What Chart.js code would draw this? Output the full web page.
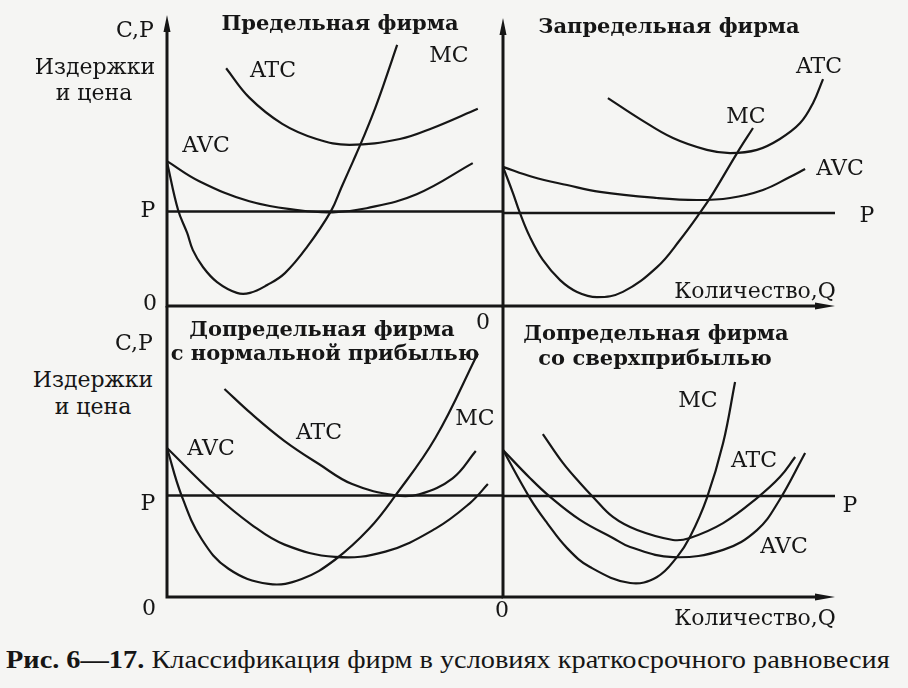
<!DOCTYPE html>
<html>
<head>
<meta charset="utf-8">
<script src="https://cdn.jsdelivr.net/npm/chart.js@4.4.0/dist/chart.umd.min.js"></script>
<style>
  body { margin: 0; background: #f5f5f3; }
  #fig { position: relative; width: 908px; height: 688px; overflow: hidden; }
  #fig canvas { position: absolute; }
  .t { position: absolute; font-family: "DejaVu Serif", serif; font-size: 22px; color: #161616;
       transform: translate(-50%, -50%); white-space: nowrap; line-height: 1; }
  .b { font-weight: bold; font-size: 21px; }
  #caption { position: absolute; left: 6px; top: 647px; font-family: "Liberation Serif", serif;
             font-size: 25px; color: #161616; white-space: nowrap; line-height: 1; transform-origin: 0 0; }
</style>
</head>
<body>
<div id="fig"></div>
<script>
// values: [quantity, cost] with both axes 0..100
const tlMC  = [[0,49.5],[3.3,33.0],[6.0,25.1],[7.7,19.2],[10.7,13.4],[14.9,8.2],[20.8,4.5],[24.7,4.5],[29.8,7.2],[35.1,11.3],[41.7,20.3],[48.8,32.6],[52.0,41.0],[55.4,49.8],[58.3,57.5],[61.3,66.0],[64.3,75.5],[68.5,89.7]]
const tlATC = [[17.6,81.7],[24.5,71.6],[34.3,62.6],[44.5,57.4],[54.3,55.4],[69.3,57.4],[79.1,61.2],[92.5,67.8]]
const tlAVC = [[0,49.8],[9.6,42.9],[24.5,36.0],[39.4,32.9],[49.3,32.2],[59.4,33.6],[74.3,38.4],[91.0,49.1]]

const trMC  = [[0,48.3],[3.0,39.2],[5.1,32.3],[8.1,24.0],[12.0,16.0],[17.2,9.0],[22.3,4.9],[28.3,3.1],[36.1,4.9],[46.4,13.5],[53.3,22.9],[59.3,32.3],[63.3,39.2],[70.5,53.1],[75.3,61.8]]
const trATC = [[31.6,72.2],[41.3,64.9],[51.2,58.3],[61.4,54.2],[68.4,53.1],[76.5,54.2],[83.4,58.0],[89.5,63.5],[93.4,70.5],[96.4,78.8]]
const trAVC = [[0,48.3],[9.0,44.8],[19.3,42.0],[29.2,39.6],[46.4,37.5],[58.4,36.8],[68.4,37.5],[78.3,40.3],[86.4,44.8],[91.0,47.6]]

const blMC  = [[0,51.2],[4.2,35.3],[10.2,20.1],[18.3,9.7],[30.2,4.5],[40.1,6.2],[50.0,12.8],[60.2,23.5],[68.0,34.9],[79.9,54.7],[92.5,83.7]]
const blATC = [[17.1,71.5],[25.1,63.0],[35.0,53.6],[45.2,45.7],[55.1,38.8],[68.0,34.9],[75.1,35.3],[85.0,40.8],[91.9,50.2]]
const blAVC = [[0,51.2],[14.1,35.3],[25.1,24.9],[35.0,18.0],[50.0,13.8],[65.0,15.6],[79.9,23.5],[90.1,32.2],[95.5,38.8]]

const brMC  = [[0,50.5],[8.1,34.0],[13.3,25.4],[19.3,16.8],[26.2,10.3],[38.3,4.8],[46.4,6.9],[52.4,13.7],[56.3,20.6],[61.4,34.0],[66.3,52.9],[69.9,73.9]]
const brATC = [[12.0,56.0],[18.1,46.0],[23.2,39.2],[27.1,34.4],[33.1,27.5],[40.4,23.0],[51.2,19.6],[56.3,20.3],[66.3,25.4],[76.5,34.0],[83.4,41.2],[88.0,48.1]]
const brAVC = [[0,50.5],[8.1,40.9],[14.2,34.4],[23.2,26.5],[33.1,20.3],[38.3,17.2],[51.2,13.7],[66.3,16.2],[76.5,23.0],[83.1,33.0],[91.0,49.5]]

const priceLevels = [32.5, 32.3, 34.9, 34.7]

const ink = '#161616'
const pad = 12

// box: origin x, origin y, width, height (pixels of the figure)
const panels = [
  { box: [167, 306, 336, 291], arrowUp: true,  arrowRight: false, curves: [tlMC, tlATC, tlAVC], price: priceLevels[0] },
  { box: [503, 306, 332, 288], arrowUp: true,  arrowRight: true,  curves: [trMC, trATC, trAVC], price: priceLevels[1] },
  { box: [167, 597, 336, 291], arrowUp: false, arrowRight: false, curves: [blMC, blATC, blAVC], price: priceLevels[2] },
  { box: [503, 597, 332, 291], arrowUp: false, arrowRight: true,  curves: [brMC, brATC, brAVC], price: priceLevels[3] },
]

const labels = [
  ['C,P', 135, 30], ['Издержки', 95, 67], ['и цена', 94, 93],
  ['Предельная фирма', 340, 22, 'b'],
  ['MC', 449, 55], ['ATC', 273, 70], ['AVC', 206, 145], ['P', 148, 210], ['0', 150, 303],
  ['Запредельная фирма', 669, 25, 'b'],
  ['ATC', 819, 66], ['MC', 746, 116], ['AVC', 840, 168], ['P', 867, 215], ['Количество,Q', 755, 291],
  ['0', 483, 322],
  ['C,P', 134, 343], ['Издержки', 93, 380], ['и цена', 93, 407],
  ['Допредельная фирма', 322, 328, 'b'], ['с нормальной прибылью', 325, 352, 'b'],
  ['ATC', 319, 432], ['AVC', 211, 448], ['MC', 475, 418], ['P', 148, 503], ['0', 149, 608],
  ['Допредельная фирма', 656, 332, 'b'], ['со сверхприбылью', 655, 357, 'b'],
  ['MC', 698, 400], ['ATC', 754, 460], ['AVC', 784, 546], ['P', 850, 505], ['0', 502, 610],
  ['Количество,Q', 755, 618],
]

function axesPlugin(p) {
  return {
    id: 'axes',
    beforeDatasetsDraw(chart) {
      const ctx = chart.ctx
      const x = chart.scales.x, y = chart.scales.y
      const x0 = x.getPixelForValue(0), y0 = y.getPixelForValue(0)
      const x1 = x.getPixelForValue(100), y1 = y.getPixelForValue(100)
      ctx.save()
      ctx.strokeStyle = ink
      ctx.fillStyle = ink
      ctx.lineWidth = 3
      ctx.beginPath()
      ctx.moveTo(x0, y0 + 1.5)
      ctx.lineTo(x0, p.arrowUp ? y1 + 10 : y1)
      ctx.moveTo(x0 - 1.5, y0)
      ctx.lineTo(p.arrowRight ? x1 - 12 : x1, y0)
      ctx.stroke()
      if (p.arrowUp) {
        ctx.beginPath()
        ctx.moveTo(x0, y1)
        ctx.lineTo(x0 - 3.5, y1 + 17)
        ctx.lineTo(x0 + 3.5, y1 + 17)
        ctx.closePath()
        ctx.fill()
      }
      if (p.arrowRight) {
        ctx.beginPath()
        ctx.moveTo(x1, y0)
        ctx.lineTo(x1 - 20, y0 - 3.5)
        ctx.lineTo(x1 - 20, y0 + 3.5)
        ctx.closePath()
        ctx.fill()
      }
      ctx.restore()
    }
  }
}

const fig = document.getElementById('fig')

panels.forEach((p) => {
  const [ox, oy, w, h] = p.box
  const canvas = document.createElement('canvas')
  canvas.width = w + 2 * pad
  canvas.height = h + 2 * pad
  canvas.style.left = (ox - pad) + 'px'
  canvas.style.top = (oy - h - pad) + 'px'
  fig.appendChild(canvas)

  const toPoints = (arr) => arr.map((d) => ({ x: d[0], y: d[1] }))
  const datasets = p.curves.map((c) => ({
    data: toPoints(c),
    borderColor: ink,
    borderWidth: 2.2,
    pointRadius: 0,
    tension: 0.4,
    fill: false,
    clip: pad,
  }))
  datasets.push({
    data: [{ x: 0, y: p.price }, { x: 100, y: p.price }],
    borderColor: ink,
    borderWidth: 2.4,
    pointRadius: 0,
    fill: false,
    clip: pad,
  })

  new Chart(canvas.getContext('2d'), {
    type: 'line',
    data: { datasets: datasets },
    options: {
      responsive: false,
      animation: false,
      layout: { padding: pad },
      plugins: { legend: { display: false }, tooltip: { enabled: false } },
      scales: {
        x: { type: 'linear', min: 0, max: 100, display: false },
        y: { type: 'linear', min: 0, max: 100, display: false },
      },
    },
    plugins: [axesPlugin(p)],
  })
})

labels.forEach((l) => {
  const d = document.createElement('div')
  d.className = 't' + (l[3] ? ' ' + l[3] : '')
  d.textContent = l[0]
  d.style.left = l[1] + 'px'
  d.style.top = l[2] + 'px'
  fig.appendChild(d)
})

const cap = document.createElement('div')
cap.id = 'caption'
cap.innerHTML = '<b>Рис. 6—17.</b> Классификация фирм в условиях краткосрочного равновесия'
fig.appendChild(cap)
const sx = 884 / cap.offsetWidth
cap.style.transform = 'scale(' + sx + ', 1)'
</script>
</body>
</html>
